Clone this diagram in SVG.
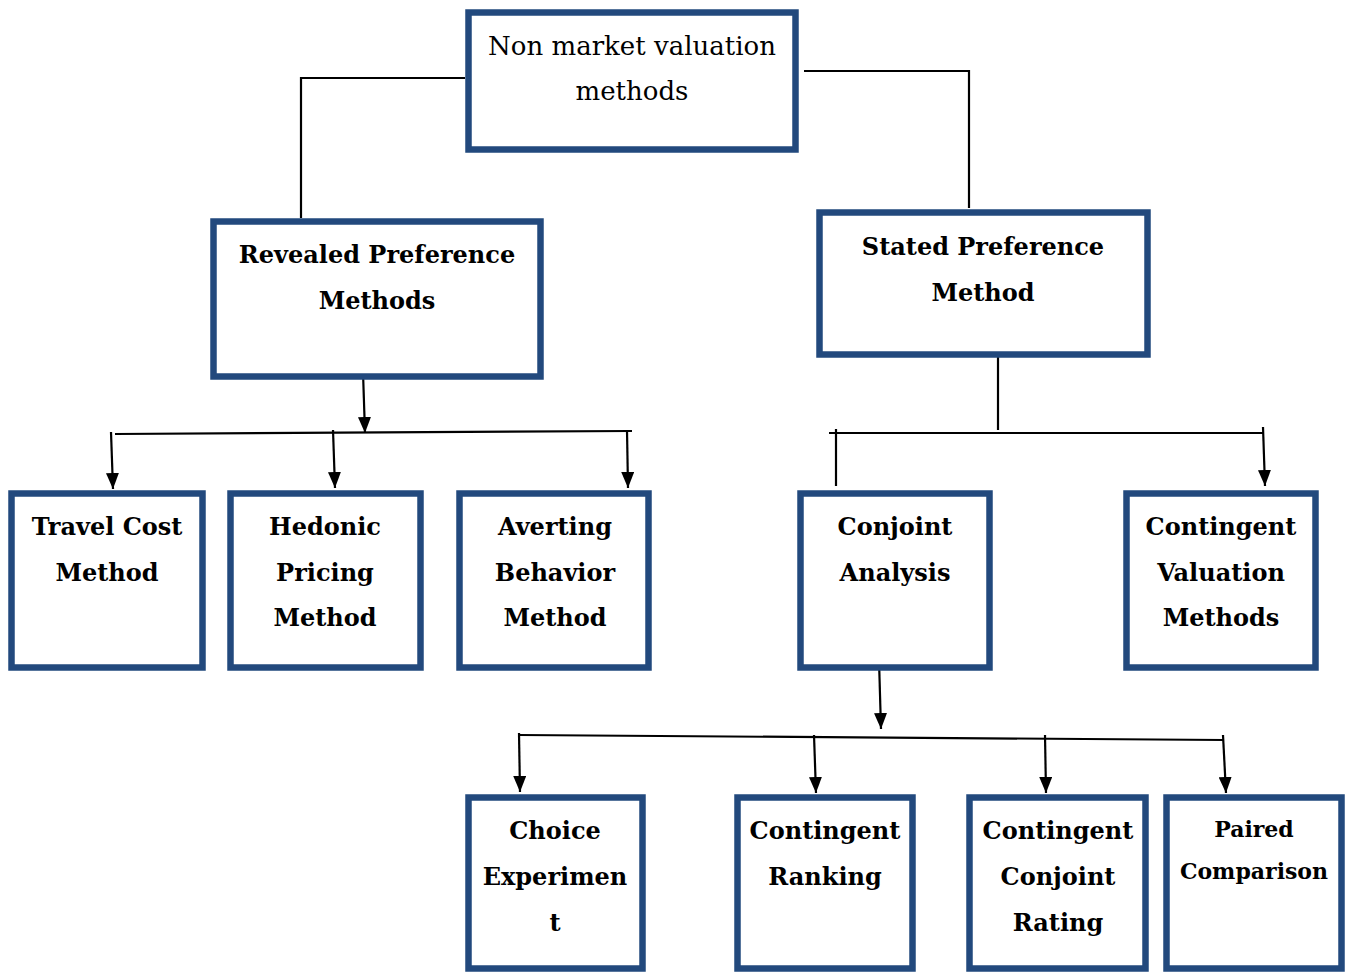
<svg xmlns="http://www.w3.org/2000/svg" width="1347" height="972" viewBox="0 0 1347 972">
<style>
.box{fill:#fff;stroke:#22497D;stroke-width:6.5}
.t{font-family:"DejaVu Serif","Liberation Serif",serif;font-size:24px;font-weight:bold;text-anchor:middle;fill:#000}
.r{font-family:"DejaVu Serif","Liberation Serif",serif;font-size:26px;text-anchor:middle;fill:#000}
.p{font-family:"DejaVu Serif","Liberation Serif",serif;font-size:22px;font-weight:bold;text-anchor:middle;fill:#000}
.c{fill:none;stroke:#000;stroke-width:2.2}
.a{fill:none;stroke:#000;stroke-width:2.2;marker-end:url(#ah)}
</style>
<defs>
<marker id="ah" markerWidth="16" markerHeight="13" refX="16" refY="6.5" orient="auto" markerUnits="userSpaceOnUse" viewBox="0 0 16 13">
<path d="M0,0 L16,6.5 L0,13 Z" fill="#000"/>
</marker>
</defs>
<g id="connectors">
<polyline class="c" points="465,78 301,78 301,218"/>
<polyline class="c" points="804,71 969,71 969,208"/>
<line class="a" x1="363" y1="372" x2="365" y2="433"/>
<line class="c" x1="115" y1="434" x2="632" y2="431"/>
<line class="a" x1="111" y1="432" x2="113" y2="489"/>
<line class="a" x1="333" y1="430" x2="335" y2="488"/>
<line class="a" x1="627" y1="430" x2="628" y2="488"/>
<line class="c" x1="998" y1="350" x2="998" y2="430"/>
<line class="c" x1="829" y1="433" x2="1263" y2="433"/>
<line class="c" x1="836" y1="429" x2="836" y2="486"/>
<line class="a" x1="1263" y1="427" x2="1265" y2="486"/>
<line class="a" x1="879" y1="660" x2="881" y2="729"/>
<line class="c" x1="519" y1="735" x2="1224" y2="740"/>
<line class="a" x1="519" y1="733" x2="520" y2="792"/>
<line class="a" x1="814" y1="735" x2="816" y2="793"/>
<line class="a" x1="1045" y1="735" x2="1046" y2="793"/>
<line class="a" x1="1223" y1="735" x2="1226" y2="793"/>
</g>
<g id="n-root">
<rect class="box" x="468.5" y="12.5" width="327" height="137"/>
<text class="r" x="632" y="55">Non market valuation</text>
<text class="r" x="632" y="100">methods</text>
</g>
<g id="n-revealed">
<rect class="box" x="213.5" y="221.5" width="327" height="155"/>
<text class="t" x="377" y="263">Revealed Preference</text>
<text class="t" x="377" y="309">Methods</text>
</g>
<g id="n-stated">
<rect class="box" x="819.5" y="212.5" width="328" height="142"/>
<text class="t" x="983" y="255">Stated Preference</text>
<text class="t" x="983" y="301">Method</text>
</g>
<g id="n-travel">
<rect class="box" x="11.5" y="493.5" width="191" height="174"/>
<text class="t" x="107" y="535">Travel Cost</text>
<text class="t" x="107" y="581">Method</text>
</g>
<g id="n-hedonic">
<rect class="box" x="230.5" y="493.5" width="190" height="174"/>
<text class="t" x="325" y="535">Hedonic</text>
<text class="t" x="325" y="581">Pricing</text>
<text class="t" x="325" y="626">Method</text>
</g>
<g id="n-averting">
<rect class="box" x="459.5" y="493.5" width="189" height="174"/>
<text class="t" x="555" y="535">Averting</text>
<text class="t" x="555" y="581">Behavior</text>
<text class="t" x="555" y="626">Method</text>
</g>
<g id="n-conjoint">
<rect class="box" x="800.5" y="493.5" width="189" height="174"/>
<text class="t" x="895" y="535">Conjoint</text>
<text class="t" x="895" y="581">Analysis</text>
</g>
<g id="n-cvm">
<rect class="box" x="1126.5" y="493.5" width="189" height="174"/>
<text class="t" x="1221" y="535">Contingent</text>
<text class="t" x="1221" y="581">Valuation</text>
<text class="t" x="1221" y="626">Methods</text>
</g>
<g id="n-choice">
<rect class="box" x="468.5" y="797.5" width="174" height="171"/>
<text class="t" x="555" y="839">Choice</text>
<text class="t" x="555" y="885">Experimen</text>
<text class="t" x="555" y="931">t</text>
</g>
<g id="n-ranking">
<rect class="box" x="737.5" y="797.5" width="175" height="171"/>
<text class="t" x="825" y="839">Contingent</text>
<text class="t" x="825" y="885">Ranking</text>
</g>
<g id="n-rating">
<rect class="box" x="969.5" y="797.5" width="176" height="171"/>
<text class="t" x="1058" y="839">Contingent</text>
<text class="t" x="1058" y="885">Conjoint</text>
<text class="t" x="1058" y="931">Rating</text>
</g>
<g id="n-paired">
<rect class="box" x="1166.5" y="797.5" width="175" height="171"/>
<text class="p" x="1254" y="837">Paired</text>
<text class="p" x="1254" y="879">Comparison</text>
</g>
</svg>
